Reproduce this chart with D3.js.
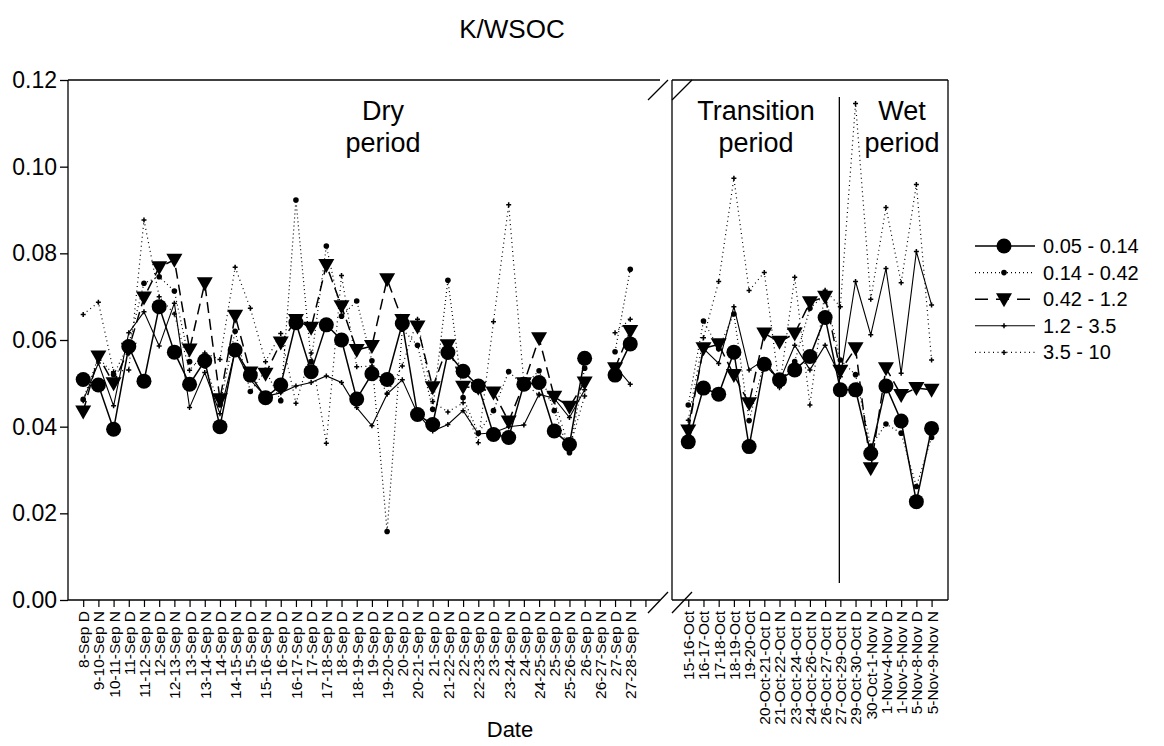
<!DOCTYPE html>
<html>
<head>
<meta charset="utf-8">
<script src="https://cdn.jsdelivr.net/npm/d3@7"></script>
<style>
  body { margin: 0; background: #fff; }
  svg { font-family: Arial, "Liberation Sans", sans-serif; }
</style>
</head>
<body>
<div id="chart"></div>
<script>
// Category labels
const leftLabels = ["8-Sep D", "9-10-Sep N", "10-11-Sep N", "11-Sep D", "11-12-Sep N", "12-Sep D",
  "12-13-Sep N", "13-Sep D", "13-14-Sep N", "14-Sep D", "14-15-Sep N", "15-Sep D", "15-16-Sep N",
  "16-Sep D", "16-17-Sep N", "17-Sep D", "17-18-Sep N", "18-Sep D", "18-19-Sep N", "19-Sep D",
  "19-20-Sep N", "20-Sep D", "20-21-Sep N", "21-Sep D", "21-22-Sep N", "22-Sep D", "22-23-Sep N",
  "23-Sep D", "23-24-Sep N", "24-Sep D", "24-25-Sep N", "25-Sep D", "25-26-Sep N", "26-Sep D",
  "26-27-Sep N", "27-Sep D", "27-28-Sep N", ""];
const rightLabels = ["15-16-Oct", "16-17-Oct", "17-18-Oct", "18-19-Oct", "19-20-Oct",
  "20-Oct-21-Oct D", "21-Oct-22-Oct N", "23-Oct-24-Oct D", "24-Oct-26-Oct N", "26-Oct-27-Oct D",
  "27-Oct-29-Oct N", "29-Oct-30-Oct D", "30-Oct-1-Nov N", "1-Nov-4-Nov D", "1-Nov-5-Nov N",
  "5-Nov-8-Nov D", "5-Nov-9-Nov N"];

const seriesNames = ["0.05 - 0.14", "0.14 - 0.42", "0.42 - 1.2", "1.2 - 3.5", "3.5 - 10"];
const yTicks = [0, 0.02, 0.04, 0.06, 0.08, 0.10, 0.12];

// Dry period values (null = no sample)
const dryA = [0.0509, 0.0496, 0.0394, 0.0585, 0.0505, 0.0677, 0.0572, 0.0498, 0.0552, 0.0400, 0.0577, 0.0519, 0.0467,
  0.0496, 0.0640, 0.0527, 0.0635, 0.0600, 0.0464, 0.0522, 0.0509, 0.0638, 0.0428, 0.0405, 0.0571, 0.0528, 0.0494,
  0.0382, 0.0375, 0.0498, 0.0502, 0.0390, 0.0359, 0.0558, null, 0.0519, 0.0591];
const dryB = [0.0463, 0.056, 0.052, 0.059, 0.0731, 0.0746, 0.0713, 0.055, 0.054, 0.045, 0.062, 0.0481, 0.053,
  0.0460, 0.0923, 0.055, 0.0817, 0.0655, 0.0690, 0.0552, 0.0158, 0.0625, 0.0588, 0.044, 0.0738, 0.0467, 0.0385,
  0.0437, 0.0527, 0.0495, 0.0529, 0.0437, 0.0340, 0.0535, null, 0.0573, 0.0763];
const dryC = [0.0435, 0.0562, 0.0500, 0.058, 0.0698, 0.0768, 0.0785, 0.0578, 0.0731, 0.0463, 0.0656, 0.0525, 0.0522,
  0.0594, 0.0646, 0.0628, 0.0773, 0.0678, 0.0577, 0.0586, 0.0740, 0.0646, 0.0631, 0.0491, 0.0588, 0.0492, 0.049,
  0.0479, 0.0412, 0.0500, 0.0604, 0.0469, 0.0446, 0.0502, null, 0.0535, 0.0621];
const dryD = [0.046, 0.0547, 0.0448, 0.0617, 0.0665, 0.0586, 0.0685, 0.0444, 0.0525, 0.043, 0.0575, 0.0508, 0.047,
  0.0478, 0.0494, 0.0502, 0.0517, 0.0502, 0.0444, 0.0402, 0.0475, 0.0508, 0.043, 0.0390, 0.0405, 0.0437, 0.0383,
  0.0386, 0.0400, 0.0404, 0.0475, 0.0465, 0.0421, 0.0485, null, 0.0540, 0.0498];
const dryE = [0.0659, 0.0687, 0.0527, 0.0531, 0.0877, 0.0700, 0.066, 0.053, 0.057, 0.0555, 0.0768, 0.0673, 0.055,
  0.0615, 0.0454, 0.057, 0.0362, 0.0749, 0.0538, 0.054, 0.0477, 0.0540, 0.0648, 0.0458, 0.0434, 0.0455, 0.0363,
  0.0642, 0.0912, 0.050, 0.0473, 0.046, 0.0350, 0.0471, null, 0.0617, 0.0648];

// Transition + wet period values
const wetA = [0.0365, 0.0489, 0.0475, 0.0572, 0.0354, 0.0544, 0.0508, 0.0531, 0.0562, 0.0652, 0.0485, 0.0485,
  0.0338, 0.0494, 0.0413, 0.0227, 0.0396];
const wetB = [0.045, 0.0644, 0.058, 0.066, 0.0414, 0.055, 0.050, 0.055, 0.0673, 0.0705, 0.0554, 0.052,
  0.0355, 0.0406, 0.0385, 0.0262, 0.0375];
const wetC = [0.0391, 0.0581, 0.0590, 0.0519, 0.0454, 0.0615, 0.0596, 0.0615, 0.0687, 0.0700, 0.0529, 0.0581,
  0.0304, 0.0535, 0.0473, 0.0489, 0.0485];
const wetD = [0.040, 0.058, 0.0546, 0.0677, 0.0531, 0.0554, 0.0505, 0.0588, 0.0531, 0.0588, 0.0515, 0.0735,
  0.0612, 0.0765, 0.0523, 0.0804, 0.0681];
const wetE = [0.0415, 0.0605, 0.0735, 0.0973, 0.0714, 0.0756, 0.049, 0.0745, 0.045, 0.0715, 0.0677, 0.1146,
  0.0694, 0.0906, 0.0732, 0.0959, 0.0554];

const dry = [dryA, dryB, dryC, dryD, dryE];
const wet = [wetA, wetB, wetC, wetD, wetE];

// Style of each size class
const styles = [
  { dash: null, width: 1.5, marker: "circle" },
  { dash: "1,3", width: 1.2, marker: "dot" },
  { dash: "11,6", width: 1.5, marker: "tri" },
  { dash: null, width: 1.1, marker: "plus" },
  { dash: "1,3.5", width: 1.2, marker: "plus" }
];

const svg = d3.select("#chart").append("svg")
  .attr("width", 1164).attr("height", 746);

const plotTop = 80, plotBottom = 600;
const y = d3.scaleLinear().domain([0, 0.12]).range([plotBottom, plotTop]);
const xL = d3.scaleLinear().domain([-1, 37.3]).range([68, 650]);
const xR = d3.scaleLinear().domain([-1.07, 17.08]).range([672, 948]);

function drawMarker(g, type, cx, cy) {
  if (type === "circle") {
    g.append("circle").attr("cx", cx).attr("cy", cy).attr("r", 7.5).attr("fill", "#000");
  } else if (type === "dot") {
    g.append("circle").attr("cx", cx).attr("cy", cy).attr("r", 2.8).attr("fill", "#000");
  } else if (type === "tri") {
    g.append("path").attr("d", `M${cx - 8},${cy - 6} L${cx + 8},${cy - 6} L${cx},${cy + 8} Z`).attr("fill", "#000");
  } else {
    g.append("path").attr("d", `M${cx - 2.5},${cy} L${cx + 2.5},${cy} M${cx},${cy - 2.5} L${cx},${cy + 2.5}`)
      .attr("stroke", "#000").attr("stroke-width", 1.5);
  }
}

function drawPanel(sets, x) {
  const g = svg.append("g");
  const line = d3.line()
    .defined(d => d != null)
    .x((d, i) => x(i))
    .y(d => y(d));
  sets.forEach((vals, k) => {
    const st = styles[k];
    g.append("path")
      .attr("d", line(vals))
      .attr("fill", "none")
      .attr("stroke", "#000")
      .attr("stroke-width", st.width)
      .attr("stroke-dasharray", st.dash);
  });
  [4, 3, 1, 2, 0].forEach(k => {
    sets[k].forEach((v, i) => {
      if (v != null) drawMarker(g, styles[k].marker, x(i), y(v));
    });
  });
}

drawPanel(dry, xL);
drawPanel(wet, xR);

// Frame and broken axis
const frame = svg.append("g").attr("stroke", "#000").attr("stroke-width", 1.3).attr("fill", "none");
frame.append("line").attr("x1", 68).attr("x2", 68).attr("y1", plotTop).attr("y2", plotBottom);
frame.append("line").attr("x1", 68).attr("x2", 660).attr("y1", plotTop).attr("y2", plotTop);
frame.append("line").attr("x1", 68).attr("x2", 660).attr("y1", plotBottom).attr("y2", plotBottom);
frame.append("line").attr("x1", 672).attr("x2", 672).attr("y1", plotTop).attr("y2", plotBottom);
frame.append("line").attr("x1", 672).attr("x2", 948).attr("y1", plotTop).attr("y2", plotTop);
frame.append("line").attr("x1", 672).attr("x2", 948).attr("y1", plotBottom).attr("y2", plotBottom);
frame.append("line").attr("x1", 948).attr("x2", 948).attr("y1", plotTop).attr("y2", plotBottom);
// break marks
[[648, 668], [672, 692]].forEach(([a, b]) => {
  frame.append("line").attr("x1", a).attr("y1", plotTop + 20).attr("x2", b).attr("y2", plotTop);
  frame.append("line").attr("x1", a).attr("y1", plotBottom + 13).attr("x2", b).attr("y2", plotBottom - 8);
});
// period divider
frame.append("line").attr("x1", xR(10) - 1).attr("x2", xR(10) - 1).attr("y1", 97).attr("y2", 583);

// Y axis
const yAxis = svg.append("g").attr("transform", "translate(68,0)")
  .call(d3.axisLeft(y).tickValues(yTicks).tickFormat(d3.format(".2f")).tickSize(8).tickPadding(3));
yAxis.select(".domain").remove();
yAxis.selectAll("line").attr("stroke-width", 1.3);
yAxis.selectAll("text").style("font-size", "23px").attr("fill", "#000");

// X axes
function xAxis(x, labels) {
  const ax = d3.axisBottom(x)
    .tickValues(d3.range(labels.length))
    .tickFormat(i => labels[i])
    .tickSize(7);
  const g = svg.append("g").attr("transform", `translate(0,${plotBottom})`).call(ax);
  g.select(".domain").remove();
  g.selectAll("line").attr("stroke-width", 1.2);
  g.selectAll("text")
    .style("font-size", "15.5px")
    .attr("fill", "#000")
    .attr("text-anchor", "end")
    .attr("transform", "rotate(-90)")
    .attr("x", -11)
    .attr("y", 0)
    .attr("dy", "0.35em");
}
xAxis(xL, leftLabels);
xAxis(xR, rightLabels);

// Titles
svg.append("text").attr("x", 512).attr("y", 38).attr("text-anchor", "middle")
  .style("font-size", "26px").text("K/WSOC");
svg.append("text").attr("x", 510).attr("y", 737).attr("text-anchor", "middle")
  .style("font-size", "22px").text("Date");

const periods = [
  { lines: ["Dry", "period"], x: 383 },
  { lines: ["Transition", "period"], x: 756 },
  { lines: ["Wet", "period"], x: 902 }
];
periods.forEach(p => {
  p.lines.forEach((t, i) => {
    svg.append("text").attr("x", p.x).attr("y", 120 + i * 32).attr("text-anchor", "middle")
      .style("font-size", "27px").text(t);
  });
});

// Legend
const legend = svg.append("g").attr("id", "legend");
seriesNames.forEach((name, k) => {
  const ly = 246 + k * 26.6;
  const st = styles[k];
  legend.append("line").attr("x1", 975).attr("x2", 1035).attr("y1", ly).attr("y2", ly)
    .attr("stroke", "#000").attr("stroke-width", st.width)
    .attr("stroke-dasharray", k === 2 ? "13,8" : st.dash);
  drawMarker(legend, st.marker, 1004, ly);
  legend.append("text").attr("x", 1043).attr("y", ly).attr("dy", "0.35em")
    .style("font-size", "20px").text(name);
});
</script>
</body>
</html>
